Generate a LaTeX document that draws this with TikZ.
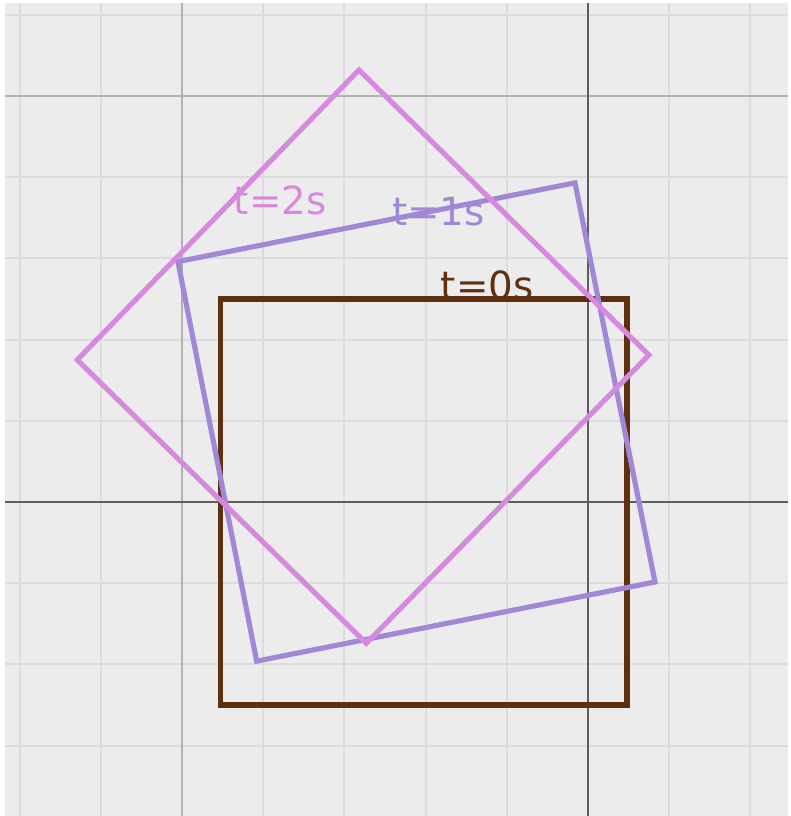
\documentclass[tikz,border=0pt]{standalone}
\usepackage{fontspec}
\newfontfamily\labelfont{DejaVu Sans}
\usepackage{tikz}
\definecolor{paper}{HTML}{ECECEC}
\definecolor{gridminor}{HTML}{DCDCDC}
\definecolor{gridmajor}{HTML}{B2B2B2}
\definecolor{gridaxis}{HTML}{5E5E5E}
\definecolor{tzero}{HTML}{5F3010}
\definecolor{tone}{HTML}{A088D6}
\definecolor{ttwo}{HTML}{D68ADE}
\tikzset{
  minorline/.style={draw=gridminor, line width=0.7pt},
  majorline/.style={draw=gridmajor, line width=0.8pt},
  axisline/.style={draw=gridaxis, line width=1pt},
  square/.style={line width=1.8pt, line join=miter},
  tlabel/.style={font=\labelfont\fontsize{13.6}{14}\selectfont, inner sep=0pt},
}

\begin{document}
\begin{tikzpicture}
\useasboundingbox (-7.241,-3.867) rectangle (2.5,6.182);
\fill[white] (-7.241,-3.867) rectangle (2.5,6.182);
\fill[paper] (-7.18,-3.867) rectangle (2.46,6.145);
% grid
\foreach \x in {-7,...,2}
  \draw[minorline] (\x,-3.867) -- (\x,6.145);
\foreach \y in {-3,...,6}
  \draw[minorline] (-7.18,\y) -- (2.46,\y);
\draw[majorline] (-5,-3.867) -- (-5,6.145);
\draw[majorline] (-7.18,5) -- (2.46,5);
\draw[axisline] (0,-3.867) -- (0,6.145);
\draw[axisline] (-7.18,0) -- (2.46,0);

\node[tlabel, text=ttwo] (lab2) at (-3.79,3.72) {t=2s};
\node[tlabel, text=tone] (lab1) at (-1.84,3.58) {t=1s};
\node[tlabel, text=tzero] (lab0) at (-1.24,2.67) {t=0s};

% t=0s
\coordinate (a1) at (-4.53,2.5);
\coordinate (a2) at (0.48,2.5);
\coordinate (a3) at (0.48,-2.5);
\coordinate (a4) at (-4.53,-2.5);
\draw[square, tzero] (a1) -- (a2) -- (a3) -- (a4) -- cycle;
% t=1s
\coordinate (b1) at (-5.05,2.96);
\coordinate (b2) at (-0.16,3.93);
\coordinate (b3) at (0.825,-0.985);
\coordinate (b4) at (-4.08,-1.96);
\draw[square, tone] (b1) -- (b2) -- (b3) -- (b4) -- cycle;
% t=2s
\coordinate (c1) at (-2.82,5.32);
\coordinate (c2) at (0.75,1.81);
\coordinate (c3) at (-2.73,-1.74);
\coordinate (c4) at (-6.29,1.75);
\draw[square, ttwo] (c1) -- (c2) -- (c3) -- (c4) -- cycle;
\end{tikzpicture}
\end{document}
